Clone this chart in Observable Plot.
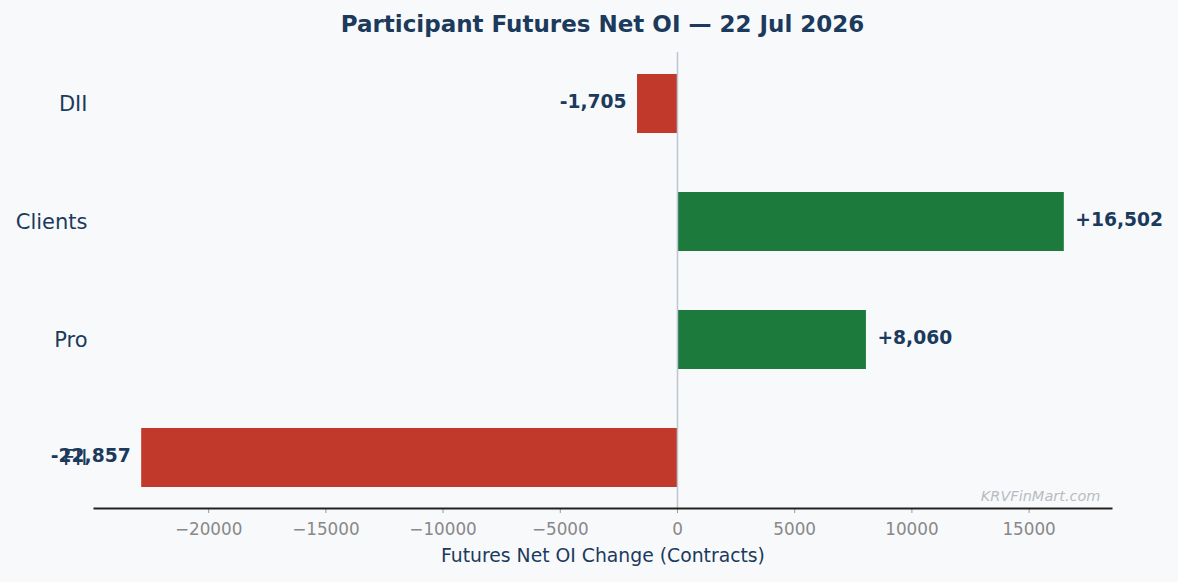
<!DOCTYPE html>
<html>
<head>
<meta charset="utf-8">
<script src="https://cdn.jsdelivr.net/npm/d3@7"></script>
<script src="https://cdn.jsdelivr.net/npm/@observablehq/plot@0.6"></script>
<style>
  html, body { margin: 0; padding: 0; background: #f8f9fb; }
  body { width: 1178px; height: 582px; overflow: hidden; font-family: "DejaVu Sans", sans-serif; }
  #title { margin-left: 94px; width: 1017px; height: 48px; line-height: 48px; text-align: center; font-size: 23px; font-weight: bold; color: #1b3a5c; white-space: nowrap; }
  #chart svg { display: block; }
</style>
</head>
<body>
<div id="title">Participant Futures Net OI — 22 Jul 2026</div>
<div id="chart"></div>
<script>
const categories = ["DII", "Clients", "Pro", "FII"];
const netOI = [-1705, 16502, 8060, -22857];
const tickValues = [-20000, -15000, -10000, -5000, 0, 5000, 10000, 15000];
const xDomain = [-24870, 18515];

const data = categories.map((c, i) => ({ category: c, value: netOI[i] }));
const navy = "#1b3a5c";
const fmtVal = v => (v > 0 ? "+" : "-") + d3.format(",")(Math.abs(v));
const fmtTick = v => v < 0 ? "\u2212" + Math.abs(v) : String(v);

const plot = Plot.plot({
  width: 1178,
  height: 534,
  marginTop: 4,
  marginBottom: 74,
  marginLeft: 94,
  marginRight: 67,
  style: { background: "#f8f9fb", fontFamily: "DejaVu Sans, sans-serif", overflow: "visible" },
  x: { domain: xDomain, axis: null },
  y: { domain: categories, paddingInner: 0.5, paddingOuter: 0.175, axis: null },
  marks: [
    Plot.barX(data, {
      x: "value", y: "category",
      fill: d => d.value >= 0 ? "#1b7a3c" : "#c0392b"
    }),
    Plot.ruleX([0], { stroke: "#bcc5d0", strokeWidth: 1.5 }),
    Plot.axisY({ tickSize: 0, tickPadding: 7, fontSize: 21, fill: navy, label: null }),
    Plot.axisX({ ticks: tickValues, tickFormat: fmtTick, tickSize: 5, tickPadding: 10, fontSize: 16.8, stroke: "#999", fill: "#888", label: null }),
    Plot.frame({ anchor: "bottom", stroke: "#222", strokeWidth: 2 }),
    Plot.text(data.filter(d => d.value >= 0), {
      x: "value", y: "category", text: d => fmtVal(d.value),
      textAnchor: "start", dx: 11, dy: -1.5, fontSize: 18.7, fontWeight: "bold", fill: navy
    }),
    Plot.text(data.filter(d => d.value < 0), {
      x: "value", y: "category", text: d => fmtVal(d.value),
      textAnchor: "end", dx: -11, dy: -1.5, fontSize: 18.7, fontWeight: "bold", fill: navy
    }),
    Plot.text(["Futures Net OI Change (Contracts)"], {
      frameAnchor: "bottom", dy: 53, fontSize: 18.8, fill: navy
    }),
    Plot.text(["KRVFinMart.com"], {
      frameAnchor: "bottom-right", dx: -11, dy: -8, fontSize: 14.5, fontStyle: "italic", fill: "#b8bcc2"
    })
  ]
});
document.getElementById("chart").appendChild(plot);
</script>
</body>
</html>
